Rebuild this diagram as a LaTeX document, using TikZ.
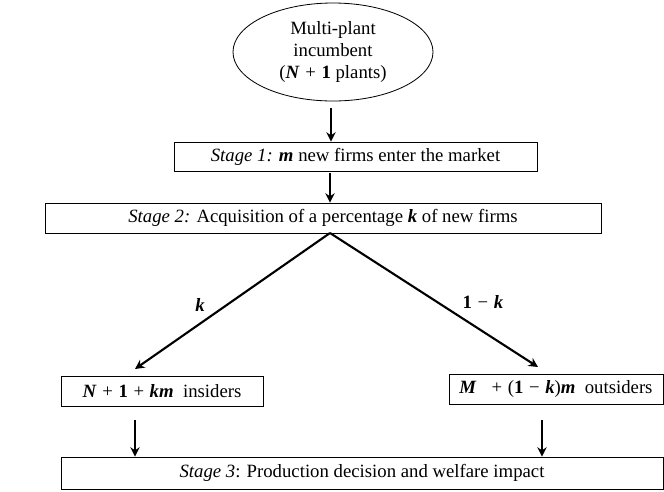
\documentclass[tikz,border=0pt]{standalone}
\usepackage{fontspec}
\setmainfont{Liberation Serif}
\usetikzlibrary{shapes.geometric,arrows.meta,shadows}

\newcommand{\bv}[1]{\textbf{\textit{#1}}}
\newcommand{\bn}[1]{\textbf{#1}}
\newcommand{\op}[1]{\hspace{0.3em}#1\hspace{0.3em}}

\begin{document}
\begin{tikzpicture}[x=0.03cm,y=-0.03cm,
  every node/.style={font=\fontsize{16}{18.5}\selectfont},
  stagebox/.style={rectangle, draw, fill=white, line width=0.7pt, minimum height=0.9cm, inner xsep=6pt,
          drop shadow={shadow xshift=0.4pt, shadow yshift=-0.9pt, fill=black!45, opacity=1}},
  flow/.style={-{Stealth[length=8pt,width=8pt]}, line width=1.8pt}]
\useasboundingbox (0,0) rectangle (664,491);

\node[ellipse, draw, line width=0.7pt, minimum width=6cm, minimum height=2.94cm,
          align=center, inner sep=0pt] (firm) at (333,52)
          {Multi-plant\\incumbent\\(\bv{N}\op{+}\bn{1} plants)};

\node[stagebox, minimum width=10.89cm, minimum height=0.87cm] (stone) at (355.5,156.5)
          {\textit{Stage 1:} \bv{m} new firms enter the market};

\node[stagebox, minimum width=16.68cm] (sttwo) at (323,218)
          {\textit{Stage 2:} Acquisition of a percentage \bv{k} of new firms};

\node[stagebox, minimum width=6.06cm] (ins) at (162,391)
          {\bv{N}\op{+}\bn{1}\op{+}\bv{km}\enspace insiders};

\node[stagebox, minimum width=6.42cm] (outs) at (556,389)
          {\bv{M}\enspace\op{+}(\bn{1}\op{−}\bv{k})\bv{m}\enspace outsiders};

\node[stagebox, minimum width=18.06cm, minimum height=0.96cm] (stthree) at (362,473)
          {\textit{Stage 3}: Production decision and welfare impact};

\node (lk) at (200,305) {\bv{k}};
\node (lnk) at (483,302) {\bn{1}\op{−}\bv{k}};

% arrows between the stages
\coordinate (top) at (330,233);
\coordinate (insin) at (135,369);
\coordinate (outsin) at (538,367);
\coordinate (insout) at (135,420);
\coordinate (outsout) at (542,420);
\coordinate (firmout) at (331,108);
\coordinate (stoneout) at (330,173);
\draw[flow] (firmout) -- (stone.north -| firmout);
\draw[flow] (stoneout) -- (sttwo.north -| stoneout);
\draw[flow] (top) -- (insin);
\draw[flow] (top) -- (outsin);
\draw[flow] (insout) -- (stthree.north -| insout);
\draw[flow] (outsout) -- (stthree.north -| outsout);
\end{tikzpicture}
\end{document}
